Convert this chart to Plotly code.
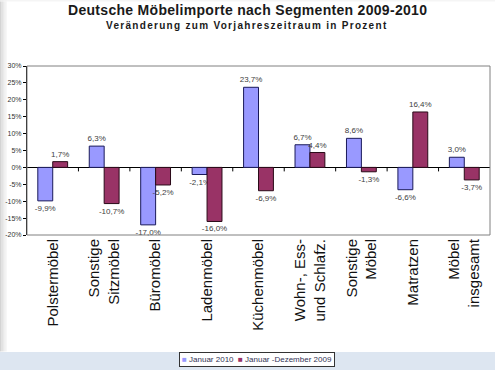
import plotly.graph_objects as go

categories = ["Polstermöbel", "Sonstige<br>Sitzmöbel", "Büromöbel", "Ladenmöbel", "Küchenmöbel",
              "Wohn-, Ess-<br>und Schlafz.", "Sonstige<br>Möbel", "Matratzen", "Möbel<br>insgesamt"]
jan2010 = [-9.9, 6.3, -17.0, -2.1, 23.7, 6.7, 8.6, -6.6, 3.0]
jandez2009 = [1.7, -10.7, -5.2, -16.0, -6.9, 4.4, -1.3, 16.4, -3.7]
series_names = ["Januar 2010", "Januar -Dezember 2009"]
series_colors = ["#9999FF", "#993366"]
y_ticks = [30, 25, 20, 15, 10, 5, 0, -5, -10, -15, -20]

def fmt(v):
    return f"{v:.1f}".replace(".", ",") + "%"

fig = go.Figure()
for vals, name, col, lc in [(jan2010, series_names[0], series_colors[0], "#1a1a5a"),
                            (jandez2009, series_names[1], series_colors[1], "#2a0a18")]:
    fig.add_trace(go.Bar(x=categories, y=vals, name=name,
                         marker=dict(color=col, line=dict(color=lc, width=1)),
                         text=[fmt(v) for v in vals], textposition="outside",
                         constraintext="none",
                         textfont=dict(size=8, color="#404040", family="Arial"),
                         cliponaxis=False, showlegend=False))

shapes = []
# bottom light-blue band
shapes.append(dict(type="rect", xref="paper", yref="paper", x0=-0.1, x1=1.1,
                   y0=-0.82, y1=-0.692, fillcolor="#dde6f1", line=dict(width=0), layer="below"))
# left shadow
for i, c in enumerate(["#d4d4d4", "#e0e0e0", "#eaeaea", "#f3f3f3"]):
    shapes.append(dict(type="rect", xref="paper", yref="paper",
                       x0=-0.06 + i * 0.004, x1=-0.06 + (i + 1) * 0.004,
                       y0=-0.69, y1=1.4, fillcolor=c, line=dict(width=0), layer="below"))
# top shadow
for i, c in enumerate(["#e2e2e2", "#ececec", "#f5f5f5"]):
    shapes.append(dict(type="rect", xref="paper", yref="paper",
                       x0=-0.06, x1=1.02,
                       y0=1.4 - (i + 1) * 0.006, y1=1.4 - i * 0.006,
                       fillcolor=c, line=dict(width=0), layer="below"))
# plot frame
shapes.append(dict(type="rect", xref="paper", yref="paper", x0=0, x1=1, y0=0, y1=1,
                   line=dict(color="#808080", width=1)))
# boundary ticks on zero line
for i in range(len(categories) - 1):
    shapes.append(dict(type="line", xref="x", yref="y", ysizemode="pixel", yanchor=0,
                       x0=i + 0.5, x1=i + 0.5, y0=0, y1=-4,
                       line=dict(color="black", width=1)))
fig.update_layout(shapes=shapes)

legend_text = (f'<span style="color:{series_colors[0]}">■</span> {series_names[0]}  '
               f'<span style="color:{series_colors[1]}">■</span> {series_names[1]}')

fig.update_layout(
    width=495, height=370,
    margin=dict(l=27, r=5, t=66, b=135),
    paper_bgcolor="white", plot_bgcolor="white",
    barmode="group", bargap=0.42, bargroupgap=0,
    font=dict(family="Arial", color="#222222"),
    showlegend=False,
    annotations=[
        dict(text='<b><span style="letter-spacing:0.3px">Deutsche Möbelimporte nach Segmenten 2009-2010</span></b>',
             xref="paper", yref="paper",
             x=0.476, y=1, yshift=56, xanchor="center", yanchor="middle", showarrow=False,
             font=dict(size=14, color="#1a1a1a", family="Arial")),
        dict(text='<b><span style="letter-spacing:1.3px">Veränderung zum Vorjahreszeitraum in Prozent</span></b>',
             xref="paper", yref="paper",
             x=0.476, y=1, yshift=41, xanchor="center", yanchor="middle", showarrow=False,
             font=dict(size=10, color="#1a1a1a", family="Arial")),
        dict(text=legend_text, xref="paper", yref="paper",
             x=0.496, y=-0.692, yshift=-8, xanchor="center", yanchor="middle", showarrow=False,
             bgcolor="white", bordercolor="#333333", borderwidth=1, borderpad=2,
             font=dict(size=8, color="#333355", family="Arial")),
    ],
)
fig.update_xaxes(type="category", tickangle=-90, showgrid=False, ticks="",
                 tickfont=dict(size=15, color="#111111", family="Arial"),
                 showline=False, automargin=False)
fig.update_yaxes(range=[-20, 30], tickvals=y_ticks, ticktext=[f"{v}%" for v in y_ticks],
                 showgrid=False, zeroline=True, zerolinecolor="black", zerolinewidth=1,
                 showline=True, linecolor="black", linewidth=1,
                 ticks="outside", ticklen=3, tickcolor="black",
                 tickfont=dict(size=7, color="#333333", family="Arial"), automargin=False)

fig.write_html("out.html", config={"displayModeBar": False},
               post_script="document.body.style.margin='0';document.body.style.overflow='hidden';")
